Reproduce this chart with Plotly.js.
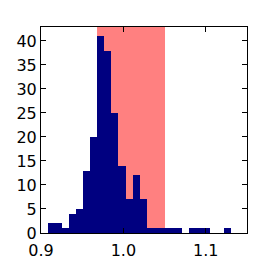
<!DOCTYPE html>
<html>
<head>
<meta charset="utf-8">
<script src="https://cdn.plot.ly/plotly-3.0.1.min.js"></script>
<style>html,body{margin:0;padding:0;background:#fff;}#chart{width:274px;height:274px;}</style>
</head>
<body>
<div id="chart"></div>
<script>
// Histogram counts per bin (26 equal bins)
const counts = [2, 2, 1, 4, 5, 13, 20, 41, 38, 25, 14, 7, 12, 7, 1, 1, 1, 1, 1, 0, 1, 1, 1, 0, 0, 1];
const binStart = 0.9089;
const binWidth = 0.008514;
// Shaded band
const bandStart = 0.968;
const bandEnd = 1.0505;
// Ticks
const xTicks = [0.9, 1.0, 1.1];
const xTickLabels = ["0.9", "1.0", "1.1"];
const yTicks = [0, 5, 10, 15, 20, 25, 30, 35, 40];

const centers = counts.map((c, i) => binStart + (i + 0.5) * binWidth);

const trace = {
  type: 'bar',
  x: centers,
  y: counts,
  width: counts.map(() => binWidth),
  marker: {color: '#000080', line: {width: 0}},
  hoverinfo: 'x+y'
};

const font = {family: 'DejaVu Sans', size: 16, color: '#000'};

const layout = {
  width: 274, height: 274,
  margin: {l: 41, r: 27, t: 27, b: 41, pad: 0},
  paper_bgcolor: '#fff', plot_bgcolor: '#fff',
  showlegend: false,
  bargap: 0,
  font: font,
  xaxis: {
    range: [0.9, 1.15],
    tickvals: xTicks, ticktext: xTickLabels,
    ticks: 'inside', ticklen: 5, tickwidth: 1, tickcolor: '#000',
    showline: true, linecolor: '#000', linewidth: 1, mirror: 'allticks',
    showgrid: false, zeroline: false,
    ticklabelstandoff: 3,
    tickfont: font
  },
  yaxis: {
    range: [0, 42.9],
    tickvals: yTicks,
    ticks: 'inside', ticklen: 5, tickwidth: 1, tickcolor: '#000',
    showline: true, linecolor: '#000', linewidth: 1, mirror: 'allticks',
    showgrid: false, zeroline: false,
    tickfont: font
  },
  shapes: [{
    type: 'rect', xref: 'x', yref: 'paper',
    x0: bandStart, x1: bandEnd, y0: 0, y1: 1,
    fillcolor: '#ff8080', line: {width: 0}, layer: 'below'
  }]
};

Plotly.newPlot('chart', [trace], layout, {displayModeBar: false, staticPlot: true});
</script>
</body>
</html>
